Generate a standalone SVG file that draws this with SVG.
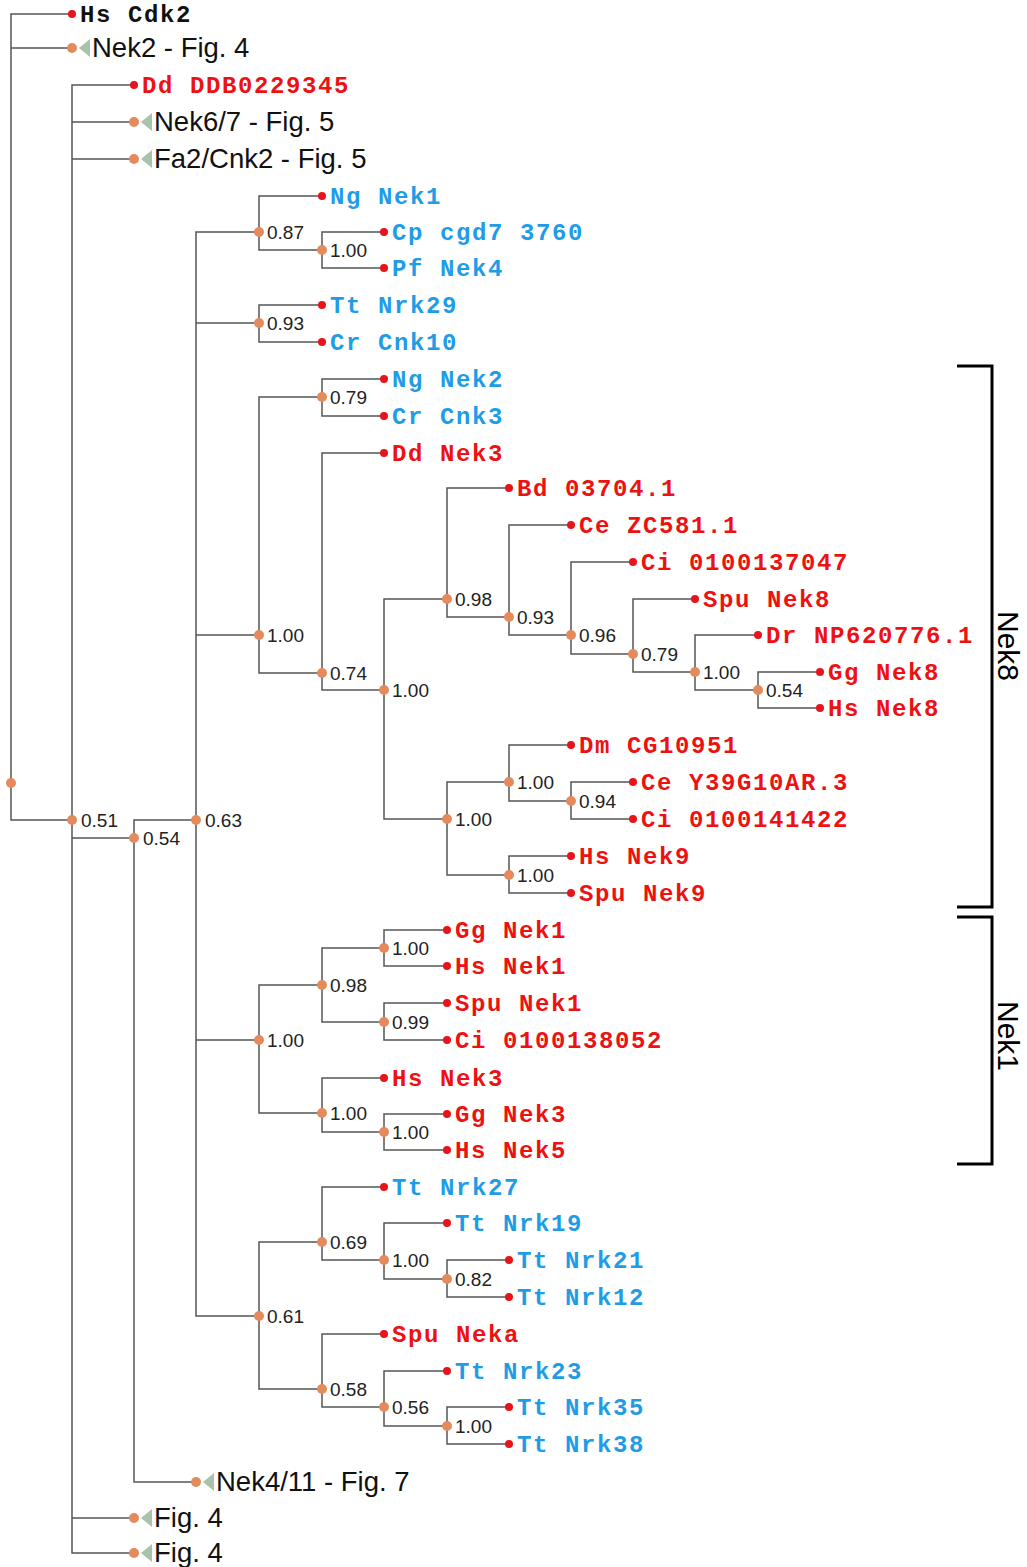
<svg xmlns="http://www.w3.org/2000/svg" width="1027" height="1567" viewBox="0 0 1027 1567">
<style>
.ln{fill:none;stroke:#555;stroke-width:1.5}
.ld{fill:#e8141c}
.nd{fill:#e58a5c}
.tri{fill:#a9c2ab}
.lb{font-family:"Liberation Mono","Courier New",monospace;font-weight:bold;font-size:24px;letter-spacing:1.6px}
.red{fill:#ee1111}
.blue{fill:#1f9ce6}
.blk{fill:#111}
.bs{font-family:"Liberation Sans",Arial,sans-serif;font-size:19px;fill:#222}
.cl{font-family:"Liberation Sans",Arial,sans-serif;font-size:27.5px;fill:#111}
.br{fill:none;stroke:#000;stroke-width:3}
.bl{font-family:"Liberation Sans",Arial,sans-serif;font-size:30px;fill:#000}
</style>
<rect width="1027" height="1567" fill="#fff"/>
<g id="connectors">
<path class="ln" d="M11 783V14H72M11 783V48H72M11 783V820H72"/>
<path class="ln" d="M72 820V85H134M72 820V122H134M72 820V159H134M72 820V838H134M72 820V1518H134M72 820V1553H134"/>
<path class="ln" d="M134 838V820H196M134 838V1482H196"/>
<path class="ln" d="M196 820V232H259M196 820V323H259M196 820V635H259M196 820V1040H259M196 820V1316H259"/>
<path class="ln" d="M259 232V196H322M259 232V250H322"/>
<path class="ln" d="M322 250V232H384M322 250V268H384"/>
<path class="ln" d="M259 323V305H322M259 323V342H322"/>
<path class="ln" d="M259 635V397H322M259 635V673H322"/>
<path class="ln" d="M322 397V379H384M322 397V416H384"/>
<path class="ln" d="M322 673V453H384M322 673V690H384"/>
<path class="ln" d="M384 690V599H447M384 690V819H447"/>
<path class="ln" d="M447 599V488H509M447 599V617H509"/>
<path class="ln" d="M509 617V525H571M509 617V635H571"/>
<path class="ln" d="M571 635V562H633M571 635V654H633"/>
<path class="ln" d="M633 654V599H695M633 654V672H695"/>
<path class="ln" d="M695 672V635H758M695 672V690H758"/>
<path class="ln" d="M758 690V672H820M758 690V708H820"/>
<path class="ln" d="M447 819V782H509M447 819V875H509"/>
<path class="ln" d="M509 782V745H571M509 782V801H571"/>
<path class="ln" d="M571 801V782H633M571 801V819H633"/>
<path class="ln" d="M509 875V856H571M509 875V893H571"/>
<path class="ln" d="M259 1040V985H322M259 1040V1113H322"/>
<path class="ln" d="M322 985V948H384M322 985V1022H384"/>
<path class="ln" d="M384 948V930H447M384 948V966H447"/>
<path class="ln" d="M384 1022V1003H447M384 1022V1040H447"/>
<path class="ln" d="M322 1113V1078H384M322 1113V1132H384"/>
<path class="ln" d="M384 1132V1114H447M384 1132V1150H447"/>
<path class="ln" d="M259 1316V1242H322M259 1316V1389H322"/>
<path class="ln" d="M322 1242V1187H384M322 1242V1260H384"/>
<path class="ln" d="M384 1260V1223H447M384 1260V1279H447"/>
<path class="ln" d="M447 1279V1260H509M447 1279V1297H509"/>
<path class="ln" d="M322 1389V1334H384M322 1389V1407H384"/>
<path class="ln" d="M384 1407V1371H447M384 1407V1426H447"/>
<path class="ln" d="M447 1426V1407H509M447 1426V1444H509"/>
</g>
<g id="internal-nodes">
<g id="n_root"><circle class="nd" cx="11" cy="783" r="5"/></g>
<g id="n051"><circle class="nd" cx="72" cy="820" r="5"/><text class="bs" x="81" y="827">0.51</text></g>
<g id="n054"><circle class="nd" cx="134" cy="838" r="5"/><text class="bs" x="143" y="845">0.54</text></g>
<g id="n063"><circle class="nd" cx="196" cy="820" r="5"/><text class="bs" x="205" y="827">0.63</text></g>
<g id="n087"><circle class="nd" cx="259" cy="232" r="5"/><text class="bs" x="267" y="239">0.87</text></g>
<g id="n100a"><circle class="nd" cx="322" cy="250" r="5"/><text class="bs" x="330" y="257">1.00</text></g>
<g id="n093a"><circle class="nd" cx="259" cy="323" r="5"/><text class="bs" x="267" y="330">0.93</text></g>
<g id="n100b"><circle class="nd" cx="259" cy="635" r="5"/><text class="bs" x="267" y="642">1.00</text></g>
<g id="n079a"><circle class="nd" cx="322" cy="397" r="5"/><text class="bs" x="330" y="404">0.79</text></g>
<g id="n074"><circle class="nd" cx="322" cy="673" r="5"/><text class="bs" x="330" y="680">0.74</text></g>
<g id="n100c"><circle class="nd" cx="384" cy="690" r="5"/><text class="bs" x="392" y="697">1.00</text></g>
<g id="n098a"><circle class="nd" cx="447" cy="599" r="5"/><text class="bs" x="455" y="606">0.98</text></g>
<g id="n093b"><circle class="nd" cx="509" cy="617" r="5"/><text class="bs" x="517" y="624">0.93</text></g>
<g id="n096"><circle class="nd" cx="571" cy="635" r="5"/><text class="bs" x="579" y="642">0.96</text></g>
<g id="n079b"><circle class="nd" cx="633" cy="654" r="5"/><text class="bs" x="641" y="661">0.79</text></g>
<g id="n100d"><circle class="nd" cx="695" cy="672" r="5"/><text class="bs" x="703" y="679">1.00</text></g>
<g id="n054b"><circle class="nd" cx="758" cy="690" r="5"/><text class="bs" x="766" y="697">0.54</text></g>
<g id="n100e"><circle class="nd" cx="447" cy="819" r="5"/><text class="bs" x="455" y="826">1.00</text></g>
<g id="n100f"><circle class="nd" cx="509" cy="782" r="5"/><text class="bs" x="517" y="789">1.00</text></g>
<g id="n094"><circle class="nd" cx="571" cy="801" r="5"/><text class="bs" x="579" y="808">0.94</text></g>
<g id="n100g"><circle class="nd" cx="509" cy="875" r="5"/><text class="bs" x="517" y="882">1.00</text></g>
<g id="n100h"><circle class="nd" cx="259" cy="1040" r="5"/><text class="bs" x="267" y="1047">1.00</text></g>
<g id="n098b"><circle class="nd" cx="322" cy="985" r="5"/><text class="bs" x="330" y="992">0.98</text></g>
<g id="n100i"><circle class="nd" cx="384" cy="948" r="5"/><text class="bs" x="392" y="955">1.00</text></g>
<g id="n099"><circle class="nd" cx="384" cy="1022" r="5"/><text class="bs" x="392" y="1029">0.99</text></g>
<g id="n100j"><circle class="nd" cx="322" cy="1113" r="5"/><text class="bs" x="330" y="1120">1.00</text></g>
<g id="n100k"><circle class="nd" cx="384" cy="1132" r="5"/><text class="bs" x="392" y="1139">1.00</text></g>
<g id="n061"><circle class="nd" cx="259" cy="1316" r="5"/><text class="bs" x="267" y="1323">0.61</text></g>
<g id="n069"><circle class="nd" cx="322" cy="1242" r="5"/><text class="bs" x="330" y="1249">0.69</text></g>
<g id="n100l"><circle class="nd" cx="384" cy="1260" r="5"/><text class="bs" x="392" y="1267">1.00</text></g>
<g id="n082"><circle class="nd" cx="447" cy="1279" r="5"/><text class="bs" x="455" y="1286">0.82</text></g>
<g id="n058"><circle class="nd" cx="322" cy="1389" r="5"/><text class="bs" x="330" y="1396">0.58</text></g>
<g id="n056"><circle class="nd" cx="384" cy="1407" r="5"/><text class="bs" x="392" y="1414">0.56</text></g>
<g id="n100m"><circle class="nd" cx="447" cy="1426" r="5"/><text class="bs" x="455" y="1433">1.00</text></g>
</g>
<g id="collapsed">
<g id="c_nek2"><circle class="nd" cx="72" cy="48" r="5"/><polygon class="tri" points="79,48 90,39 90,57"/><text class="cl" x="92" y="57">Nek2 - Fig. 4</text></g>
<g id="c_nek67"><circle class="nd" cx="134" cy="122" r="5"/><polygon class="tri" points="141,122 152,113 152,131"/><text class="cl" x="154" y="131">Nek6/7 - Fig. 5</text></g>
<g id="c_fa2"><circle class="nd" cx="134" cy="159" r="5"/><polygon class="tri" points="141,159 152,150 152,168"/><text class="cl" x="154" y="168">Fa2/Cnk2 - Fig. 5</text></g>
<g id="c_nek411"><circle class="nd" cx="196" cy="1482" r="5"/><polygon class="tri" points="203,1482 214,1473 214,1491"/><text class="cl" x="216" y="1491">Nek4/11 - Fig. 7</text></g>
<g id="c_fig4a"><circle class="nd" cx="134" cy="1518" r="5"/><polygon class="tri" points="141,1518 152,1509 152,1527"/><text class="cl" x="154" y="1527">Fig. 4</text></g>
<g id="c_fig4b"><circle class="nd" cx="134" cy="1553" r="5"/><polygon class="tri" points="141,1553 152,1544 152,1562"/><text class="cl" x="154" y="1562">Fig. 4</text></g>
</g>
<g id="leaves">
<g id="l_hscdk2"><circle class="ld" cx="72" cy="14" r="4"/><text class="lb blk" x="80" y="22">Hs Cdk2</text></g>
<g id="l_dd229345"><circle class="ld" cx="134" cy="85" r="4"/><text class="lb red" x="142" y="93">Dd DDB0229345</text></g>
<g id="l_ngnek1"><circle class="ld" cx="322" cy="196" r="4"/><text class="lb blue" x="330" y="204">Ng Nek1</text></g>
<g id="l_cp"><circle class="ld" cx="384" cy="232" r="4"/><text class="lb blue" x="392" y="240">Cp cgd7 3760</text></g>
<g id="l_pf"><circle class="ld" cx="384" cy="268" r="4"/><text class="lb blue" x="392" y="276">Pf Nek4</text></g>
<g id="l_ttnrk29"><circle class="ld" cx="322" cy="305" r="4"/><text class="lb blue" x="330" y="313">Tt Nrk29</text></g>
<g id="l_crcnk10"><circle class="ld" cx="322" cy="342" r="4"/><text class="lb blue" x="330" y="350">Cr Cnk10</text></g>
<g id="l_ngnek2"><circle class="ld" cx="384" cy="379" r="4"/><text class="lb blue" x="392" y="387">Ng Nek2</text></g>
<g id="l_crcnk3"><circle class="ld" cx="384" cy="416" r="4"/><text class="lb blue" x="392" y="424">Cr Cnk3</text></g>
<g id="l_ddnek3"><circle class="ld" cx="384" cy="453" r="4"/><text class="lb red" x="392" y="461">Dd Nek3</text></g>
<g id="l_bd"><circle class="ld" cx="509" cy="488" r="4"/><text class="lb red" x="517" y="496">Bd 03704.1</text></g>
<g id="l_cezc"><circle class="ld" cx="571" cy="525" r="4"/><text class="lb red" x="579" y="533">Ce ZC581.1</text></g>
<g id="l_ci047"><circle class="ld" cx="633" cy="562" r="4"/><text class="lb red" x="641" y="570">Ci 0100137047</text></g>
<g id="l_spunek8"><circle class="ld" cx="695" cy="599" r="4"/><text class="lb red" x="703" y="607">Spu Nek8</text></g>
<g id="l_dr"><circle class="ld" cx="758" cy="635" r="4"/><text class="lb red" x="766" y="643">Dr NP620776.1</text></g>
<g id="l_ggnek8"><circle class="ld" cx="820" cy="672" r="4"/><text class="lb red" x="828" y="680">Gg Nek8</text></g>
<g id="l_hsnek8"><circle class="ld" cx="820" cy="708" r="4"/><text class="lb red" x="828" y="716">Hs Nek8</text></g>
<g id="l_dm"><circle class="ld" cx="571" cy="745" r="4"/><text class="lb red" x="579" y="753">Dm CG10951</text></g>
<g id="l_cey39"><circle class="ld" cx="633" cy="782" r="4"/><text class="lb red" x="641" y="790">Ce Y39G10AR.3</text></g>
<g id="l_ci422"><circle class="ld" cx="633" cy="819" r="4"/><text class="lb red" x="641" y="827">Ci 0100141422</text></g>
<g id="l_hsnek9"><circle class="ld" cx="571" cy="856" r="4"/><text class="lb red" x="579" y="864">Hs Nek9</text></g>
<g id="l_spunek9"><circle class="ld" cx="571" cy="893" r="4"/><text class="lb red" x="579" y="901">Spu Nek9</text></g>
<g id="l_ggnek1"><circle class="ld" cx="447" cy="930" r="4"/><text class="lb red" x="455" y="938">Gg Nek1</text></g>
<g id="l_hsnek1"><circle class="ld" cx="447" cy="966" r="4"/><text class="lb red" x="455" y="974">Hs Nek1</text></g>
<g id="l_spunek1"><circle class="ld" cx="447" cy="1003" r="4"/><text class="lb red" x="455" y="1011">Spu Nek1</text></g>
<g id="l_ci052"><circle class="ld" cx="447" cy="1040" r="4"/><text class="lb red" x="455" y="1048">Ci 0100138052</text></g>
<g id="l_hsnek3"><circle class="ld" cx="384" cy="1078" r="4"/><text class="lb red" x="392" y="1086">Hs Nek3</text></g>
<g id="l_ggnek3"><circle class="ld" cx="447" cy="1114" r="4"/><text class="lb red" x="455" y="1122">Gg Nek3</text></g>
<g id="l_hsnek5"><circle class="ld" cx="447" cy="1150" r="4"/><text class="lb red" x="455" y="1158">Hs Nek5</text></g>
<g id="l_ttnrk27"><circle class="ld" cx="384" cy="1187" r="4"/><text class="lb blue" x="392" y="1195">Tt Nrk27</text></g>
<g id="l_ttnrk19"><circle class="ld" cx="447" cy="1223" r="4"/><text class="lb blue" x="455" y="1231">Tt Nrk19</text></g>
<g id="l_ttnrk21"><circle class="ld" cx="509" cy="1260" r="4"/><text class="lb blue" x="517" y="1268">Tt Nrk21</text></g>
<g id="l_ttnrk12"><circle class="ld" cx="509" cy="1297" r="4"/><text class="lb blue" x="517" y="1305">Tt Nrk12</text></g>
<g id="l_spuneka"><circle class="ld" cx="384" cy="1334" r="4"/><text class="lb red" x="392" y="1342">Spu Neka</text></g>
<g id="l_ttnrk23"><circle class="ld" cx="447" cy="1371" r="4"/><text class="lb blue" x="455" y="1379">Tt Nrk23</text></g>
<g id="l_ttnrk35"><circle class="ld" cx="509" cy="1407" r="4"/><text class="lb blue" x="517" y="1415">Tt Nrk35</text></g>
<g id="l_ttnrk38"><circle class="ld" cx="509" cy="1444" r="4"/><text class="lb blue" x="517" y="1452">Tt Nrk38</text></g>
</g>
<g id="brackets">
<g id="b_nek8"><path class="br" d="M957 366H992V907H957"/><text class="bl" transform="translate(998 646) rotate(90)" text-anchor="middle">Nek8</text></g>
<g id="b_nek1"><path class="br" d="M957 917H992V1164H957"/><text class="bl" transform="translate(998 1036) rotate(90)" text-anchor="middle">Nek1</text></g>
</g>
</svg>
